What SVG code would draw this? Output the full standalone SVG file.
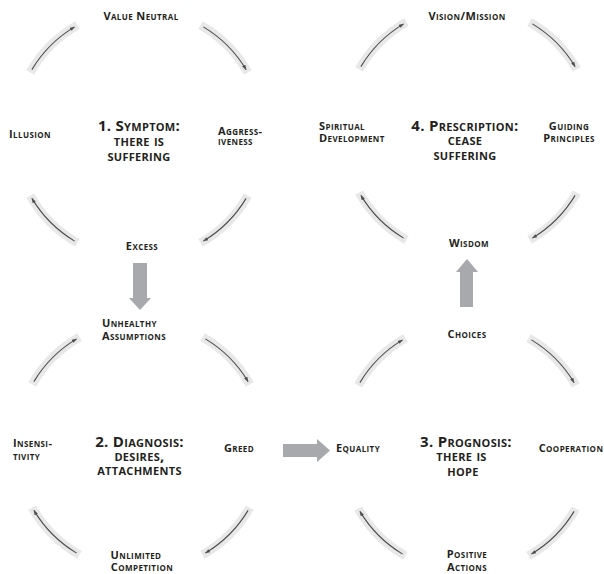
<svg xmlns="http://www.w3.org/2000/svg" width="604" height="574" viewBox="0 0 604 574">
<style>
.lbl{font-family:"Open Sans","Liberation Sans",sans-serif;font-weight:700;font-size:11px;font-variant:small-caps;fill:#231f20;letter-spacing:0.4px}
.ttl{font-family:"Open Sans","Liberation Sans",sans-serif;font-weight:700;font-size:15px;font-variant:small-caps;fill:#231f20;letter-spacing:0.3px}
.m{text-anchor:middle}
.band{fill:none;stroke:#e8e8e8;stroke-width:9}
.ln{fill:none;stroke:#4d4d4d;stroke-width:1.1;marker-end:url(#ah)}
.big{fill:#a7a9ac}
</style>
<defs>
<marker id="ah" viewBox="0 0 6 6" refX="5.5" refY="3" markerWidth="5" markerHeight="5" markerUnits="userSpaceOnUse" orient="auto">
<path d="M0,0.8 L6,3 L0,5.2 z" fill="#4d4d4d"/>
</marker>
<g id="cycle">
<path class="band" d="M-108.8,-61.6 A125,125 0 0 1 -61.6,-108.8"/>
<path class="band" d="M61.6,-108.8 A125,125 0 0 1 108.8,-61.6"/>
<path class="band" d="M108.8,61.6 A125,125 0 0 1 61.6,108.8"/>
<path class="band" d="M-61.6,108.8 A125,125 0 0 1 -108.8,61.6"/>
<path class="ln" d="M-107.1,-64.4 A125,125 0 0 1 -64.4,-107.1"/>
<path class="ln" d="M64.4,-107.1 A125,125 0 0 1 107.1,-64.4"/>
<path class="ln" d="M107.1,64.4 A125,125 0 0 1 64.4,107.1"/>
<path class="ln" d="M-64.4,107.1 A125,125 0 0 1 -107.1,64.4"/>
</g>
</defs>
<g id="connectors">
<use href="#cycle" transform="translate(139,134)"/>
<use href="#cycle" transform="translate(468,131)"/>
<use href="#cycle" transform="translate(141,446)"/>
<use href="#cycle" transform="translate(467,447)"/>
<polygon class="big" points="133,263 147,263 147,298 151,298 140,310 129,298 133,298"/>
<polygon class="big" points="460,307 473,307 473,272 478,272 467,259 456,272 460,272"/>
<polygon class="big" points="283,444 317,444 317,439 330,450.5 317,462 317,457 283,457"/>
</g>
<g id="value-neutral"><text class="lbl m" x="141" y="20">Value Neutral</text></g>
<g id="illusion"><text class="lbl m" x="30" y="138">Illusion</text></g>
<g id="aggressiveness"><text class="lbl" x="218" y="135">Aggress-</text><text class="lbl" x="218" y="145">iveness</text></g>
<g id="symptom"><text class="ttl m" x="139" y="130.5">1. Symptom:</text><text class="ttl m" x="139" y="145.5">there is</text><text class="ttl m" x="139" y="161">suffering</text></g>
<g id="excess"><text class="lbl m" x="142" y="250">Excess</text></g>
<g id="vision-mission"><text class="lbl m" x="467" y="20">Vision/Mission</text></g>
<g id="spiritual-development"><text class="lbl" x="319" y="130">Spiritual</text><text class="lbl" x="319" y="142">Development</text></g>
<g id="prescription"><text class="ttl m" x="465" y="130.5">4. Prescription:</text><text class="ttl m" x="465" y="144.5">cease</text><text class="ttl m" x="465" y="160">suffering</text></g>
<g id="guiding-principles"><text class="lbl m" x="569" y="130">Guiding</text><text class="lbl m" x="569" y="142">Principles</text></g>
<g id="wisdom"><text class="lbl m" x="469" y="247">Wisdom</text></g>
<g id="unhealthy-assumptions"><text class="lbl" x="102" y="327">Unhealthy</text><text class="lbl" x="102" y="340">Assumptions</text></g>
<g id="insensitivity"><text class="lbl" x="13" y="447">Insensi-</text><text class="lbl" x="13" y="460">tivity</text></g>
<g id="diagnosis"><text class="ttl m" x="139.5" y="446.5">2. Diagnosis:</text><text class="ttl m" x="139.5" y="461">desires,</text><text class="ttl m" x="139.5" y="475">attachments</text></g>
<g id="greed"><text class="lbl m" x="239" y="452">Greed</text></g>
<g id="unlimited-competition"><text class="lbl m" x="136" y="559">Unlimited</text><text class="lbl m" x="142" y="571">Competition</text></g>
<g id="choices"><text class="lbl m" x="467" y="338">Choices</text></g>
<g id="equality"><text class="lbl m" x="358" y="452">Equality</text></g>
<g id="prognosis"><text class="ttl m" x="466" y="446.5">3. Prognosis:</text><text class="ttl m" x="461.5" y="460.5">there is</text><text class="ttl m" x="463" y="476">hope</text></g>
<g id="cooperation"><text class="lbl m" x="571" y="452">Cooperation</text></g>
<g id="positive-actions"><text class="lbl m" x="467" y="558">Positive</text><text class="lbl m" x="467" y="571">Actions</text></g>
</svg>
